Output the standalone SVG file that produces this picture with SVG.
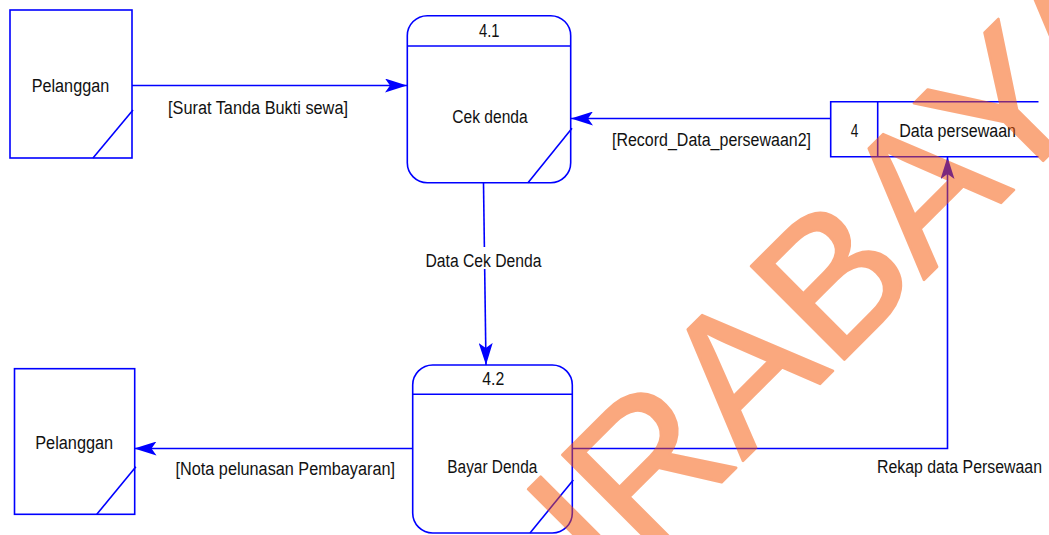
<svg xmlns="http://www.w3.org/2000/svg" width="1049" height="535" viewBox="0 0 1049 535">
  <style>
    .shape { fill: #ffffff; stroke: #0000ff; stroke-width: 1.6; }
    .edge { fill: none; stroke: #0000ff; stroke-width: 1.6; }
    .lbl { font-family: "Liberation Sans", Arial, sans-serif; font-size: 18px; fill: #111111; }
    .wm { font-family: "Liberation Sans", Arial, sans-serif; font-size: 192px; fill: #f75300; stroke: #f75300; stroke-width: 2.5; stroke-linejoin: round; }
  </style>
  <defs>
    <marker id="arrow" viewBox="0 0 22 14" refX="22" refY="7" markerWidth="22" markerHeight="14" markerUnits="userSpaceOnUse" orient="auto">
      <path d="M0,0 L22,7 L0,14 L5,7 Z" fill="#0000ff"/>
    </marker>
  </defs>

  <rect width="1049" height="535" fill="#ffffff"/>

  <!-- connectors -->
  <g id="connectors">
    <line class="edge" x1="132" y1="85.5" x2="407" y2="85.5" marker-end="url(#arrow)"/>
    <text class="lbl" x="168" y="113.5" textLength="180" lengthAdjust="spacingAndGlyphs">[Surat Tanda Bukti sewa]</text>

    <line class="edge" x1="830.5" y1="118.5" x2="571" y2="118.5" marker-end="url(#arrow)"/>
    <text class="lbl" x="612" y="146" textLength="199" lengthAdjust="spacingAndGlyphs">[Record_Data_persewaan2]</text>

    <line class="edge" x1="483.5" y1="183" x2="486" y2="365" marker-end="url(#arrow)"/>
    <rect x="423" y="247" width="121" height="22" fill="#ffffff"/>
    <text class="lbl" x="425.5" y="266.5" textLength="116" lengthAdjust="spacingAndGlyphs">Data Cek Denda</text>

    <line class="edge" x1="412.5" y1="448.5" x2="134.5" y2="448.5" marker-end="url(#arrow)"/>
    <text class="lbl" x="175.5" y="475" textLength="219.5" lengthAdjust="spacingAndGlyphs">[Nota pelunasan Pembayaran]</text>

    <polyline class="edge" points="572,448.5 947.5,448.5 947.5,157" marker-end="url(#arrow)"/>
    <text class="lbl" style="font-size:16px" transform="translate(877,473) scale(1,1.125)" x="0" y="0" textLength="165" lengthAdjust="spacingAndGlyphs">Rekap data Persewaan</text>
  </g>

  <!-- external entity: Pelanggan (top) -->
  <g id="pelanggan-1">
    <rect class="shape" x="10" y="10" width="122" height="148"/>
    <line class="edge" x1="93" y1="158" x2="133" y2="110"/>
    <text class="lbl" x="31.7" y="91.5" textLength="77.5" lengthAdjust="spacingAndGlyphs">Pelanggan</text>
  </g>

  <!-- process 4.1 -->
  <g id="proses-4-1">
    <rect class="shape" x="407.3" y="15.7" width="163.4" height="167" rx="20" ry="20"/>
    <line class="edge" x1="407.3" y1="46" x2="570.7" y2="46"/>
    <line class="edge" x1="528" y1="182.7" x2="572" y2="128.3"/>
    <text class="lbl" x="479" y="37.3" textLength="20.5" lengthAdjust="spacingAndGlyphs">4.1</text>
    <text class="lbl" x="452.3" y="122.7" textLength="75.4" lengthAdjust="spacingAndGlyphs">Cek denda</text>
  </g>

  <!-- data store 4 -->
  <g id="store-4">
    <rect x="830.7" y="101.7" width="208" height="55" fill="#ffffff"/>
    <polyline class="edge" points="1038.5,101.7 830.7,101.7 830.7,156.7 1038.5,156.7"/>
    <line class="edge" x1="877.7" y1="101.7" x2="877.7" y2="156.7"/>
    <text class="lbl" x="850.7" y="136.7" textLength="7.6" lengthAdjust="spacingAndGlyphs">4</text>
    <text class="lbl" x="899.3" y="136.7" textLength="116.7" lengthAdjust="spacingAndGlyphs">Data persewaan</text>
  </g>

  <!-- process 4.2 -->
  <g id="proses-4-2">
    <rect class="shape" x="412.7" y="365" width="159.6" height="168" rx="20" ry="20"/>
    <line class="edge" x1="412.7" y1="394.3" x2="572.3" y2="394.3"/>
    <line class="edge" x1="530" y1="533" x2="573.3" y2="480"/>
    <text class="lbl" x="482.3" y="385" textLength="22" lengthAdjust="spacingAndGlyphs">4.2</text>
    <text class="lbl" x="447.3" y="473.3" textLength="90" lengthAdjust="spacingAndGlyphs">Bayar Denda</text>
  </g>

  <!-- external entity: Pelanggan (bottom) -->
  <g id="pelanggan-2">
    <rect class="shape" x="14.5" y="368.7" width="120.2" height="145.6"/>
    <line class="edge" x1="96.8" y1="514.3" x2="135.9" y2="466.7"/>
    <text class="lbl" x="35.2" y="449.3" textLength="78" lengthAdjust="spacingAndGlyphs">Pelanggan</text>
  </g>

  <!-- watermark, translucent over the drawing -->
  <g id="watermark" opacity="0.5">
    <text class="wm" transform="translate(456,748) rotate(-45)">SURABAYA</text>
  </g>
</svg>
